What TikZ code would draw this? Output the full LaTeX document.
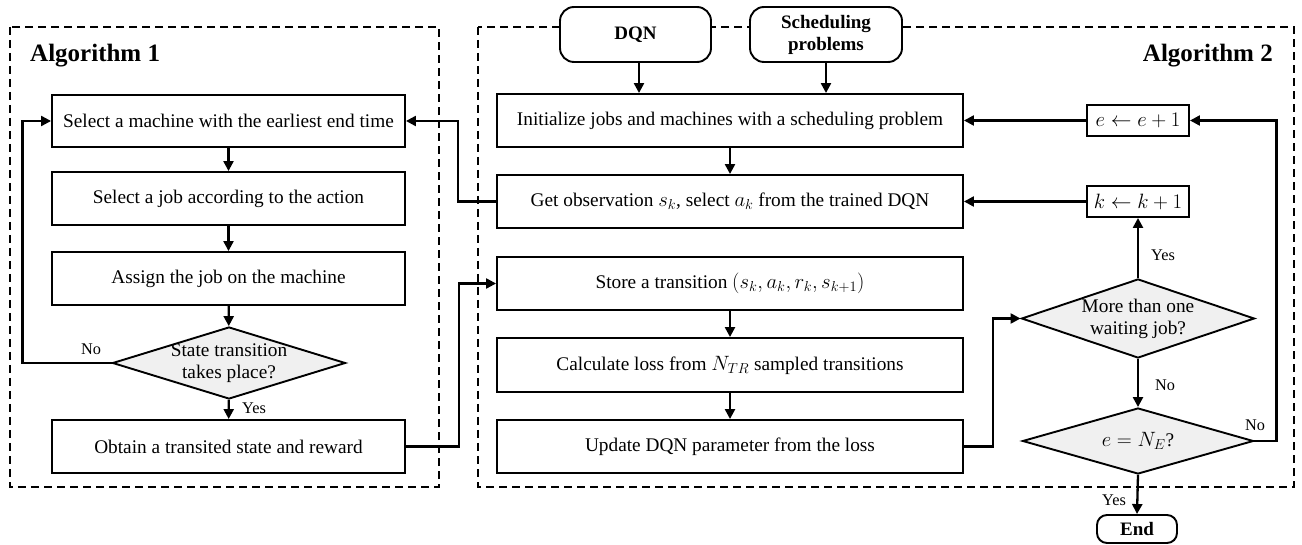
\documentclass[tikz,border=0pt]{standalone}
\usepackage{fontspec}
\setmainfont{Liberation Serif}
\usetikzlibrary{arrows.meta,shapes.geometric,calc}
\begin{document}
\begin{tikzpicture}[x=1pt,y=-1pt,
  every node/.style={font=\fontsize{19.3}{22}\selectfont},
  box/.style={draw,line width=1.9pt,fill=white,inner sep=0pt,align=center},
  rbox/.style={box,rounded corners=14pt,font=\fontsize{19}{22}\selectfont\bfseries},
  dec/.style={draw,line width=1.9pt,fill=black!6,shape=diamond,inner sep=0pt},
  dashbox/.style={draw,line width=1.8pt,dash pattern=on 8pt off 5pt},
  arr/.style={line width=2.3pt,-{Triangle[length=10pt,width=10pt]}},
  lab/.style={font=\fontsize{16.3}{18}\selectfont,inner sep=0pt},
  ttl/.style={font=\fontsize{25}{28}\selectfont\bfseries,inner sep=0pt}
]
\useasboundingbox (0,0) rectangle (1302,545);
% dashed frames
\draw[dashbox] (10,27) rectangle (439,487);
\draw[dashbox] (478,27) rectangle (1294,487);
\node[ttl,anchor=west] (t1) at (30,56) {Algorithm 1};
\node[ttl,anchor=east] (t2) at (1273,56) {Algorithm 2};

% Algorithm 1
\node[box,minimum width=353pt,minimum height=52pt] (m1) at (228.5,121) {Select a machine with the earliest end time};
\node[box,minimum width=353pt,minimum height=53pt] (m2) at (228.5,198.5) {Select a job according to the action};
\node[box,minimum width=353pt,minimum height=53pt] (m3) at (228.5,278.5) {Assign the job on the machine};
\node[dec,minimum width=233pt,minimum height=72pt,label={[align=center,font=\fontsize{19.3}{22}\selectfont]center:State transition\\takes place?}] (d0) at (229,363) {};
\node[box,minimum width=353pt,minimum height=53pt] (m5) at (228.5,446.5) {Obtain a transited state and reward};

% Algorithm 2
\node[rbox,minimum width=151pt,minimum height=55pt] (dqn) at (635.5,34.5) {DQN};
\node[rbox,minimum width=152pt,minimum height=55pt] (sp) at (826,34.5) {Scheduling\\problems};
\node[box,minimum width=466pt,minimum height=53pt] (init) at (730,120.5) {Initialize jobs and machines with a scheduling problem};
\node[box,minimum width=466pt,minimum height=53pt] (get) at (730,201.5) {Get observation $s_k$, select $a_k$ from the trained DQN};
\node[box,minimum width=466pt,minimum height=53pt] (store) at (730,283.5) {Store a transition $(s_k,a_k,r_k,s_{k+1})$};
\node[box,minimum width=466pt,minimum height=54pt] (calc) at (730,365) {Calculate loss from $N_{TR}$ sampled transitions};
\node[box,minimum width=466pt,minimum height=53pt] (upd) at (730,446.5) {Update DQN parameter from the loss};
\node[box,minimum width=102pt,minimum height=31pt] (eb) at (1138,120.5) {$e \leftarrow e+1$};
\node[box,minimum width=102pt,minimum height=31pt] (kb) at (1138,201.5) {$k \leftarrow k+1$};
\node[dec,minimum width=233pt,minimum height=79pt,label={[align=center,font=\fontsize{19.3}{22}\selectfont]center:More than one\\waiting job?}] (d1) at (1138,318.5) {};
\node[dec,minimum width=231pt,minimum height=66pt,label={[font=\fontsize{19.3}{22}\selectfont]center:$e=N_E$?}] (d2) at (1138,441) {};
\node[rbox,minimum width=80pt,minimum height=28pt,rounded corners=10pt] (end) at (1137,529) {End};

% connectors Algorithm 1
\draw[arr] (m1) -- (m2);
\draw[arr] (m2) -- (m3);
\draw[arr] (m3) -- (d0);
\draw[arr] (d0) -- (m5);
\draw[arr] (d0.west) -- ++(-89,0) |- (m1.west);
\draw[arr] (get.west) -- ++(-38,0) |- (m1.east);
\draw[arr] (m5.east) -- ++(53,0) |- (store.west);

% connectors Algorithm 2
\draw[arr] ([xshift=3.5pt]dqn.south) -- ([xshift=3.5pt]dqn.south |- init.north);
\draw[arr] (sp.south) -- (sp.south |- init.north);
\draw[arr] (init) -- (get);
\draw[arr] (store) -- (calc);
\draw[arr] (calc) -- (upd);
\draw[arr] (upd.east) -- ++(29,0) |- (d1.west);
\draw[arr] (d1.north) -- (kb.south);
\draw[arr] (d1.south) -- (d2.north);
\draw[arr] (d2.south) -- (end.north);
\draw[arr] (d2.east) -- ++(22,0) |- (eb.east);
\draw[arr] (eb.west) -- (init.east);
\draw[arr] (kb.west) -- (get.east);

% labels
\node[lab] (l1) at (91,349) {No};
\node[lab] (l2) at (254,408) {Yes};
\node[lab] (l3) at (1163,255) {Yes};
\node[lab] (l4) at (1165,385) {No};
\node[lab] (l5) at (1255,425) {No};
\node[lab] (l6) at (1114,500) {Yes};
\end{tikzpicture}
\end{document}
